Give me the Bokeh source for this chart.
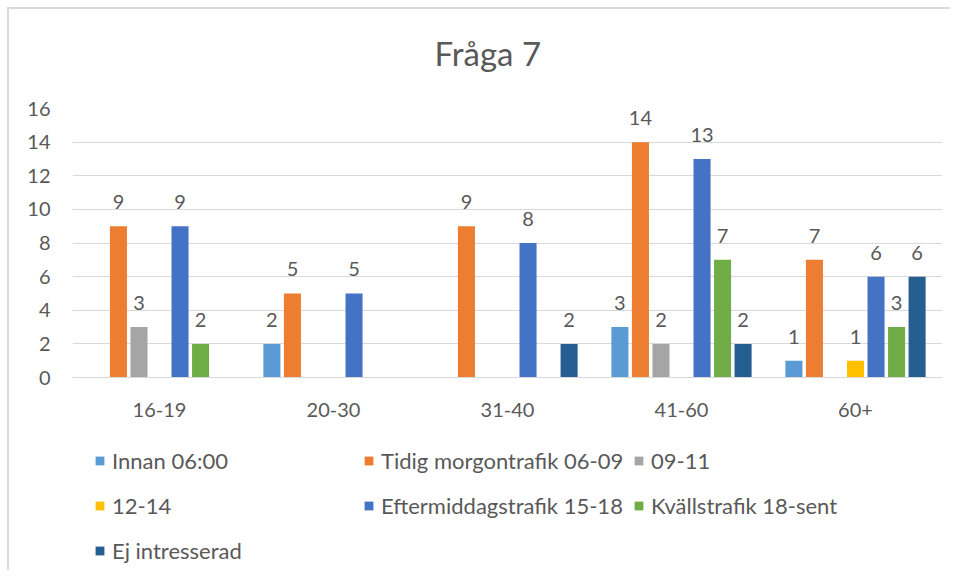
from bokeh.plotting import figure
from bokeh.layouts import column
from bokeh.models import ColumnDataSource, Legend, LegendItem, FixedTicker, Title
from bokeh.transform import dodge
from bokeh.core.properties import value
from bokeh.embed import file_html
from bokeh.resources import INLINE

# ---- data ----
categories = ["16-19", "20-30", "31-40", "41-60", "60+"]
series_names = ["Innan 06:00", "Tidig morgontrafik 06-09", "09-11", "12-14",
                "Eftermiddagstrafik 15-18", "Kvällstrafik 18-sent", "Ej intresserad"]
innan_0600 = [0, 2, 0, 3, 1]
tidig_0609 = [9, 5, 9, 14, 7]
mid_0911 = [3, 0, 0, 2, 0]
lunch_1214 = [0, 0, 0, 0, 1]
efter_1518 = [9, 5, 8, 13, 6]
kvall_18 = [2, 0, 0, 7, 3]
ej_intresserad = [0, 0, 2, 2, 6]
y_ticks = [0, 2, 4, 6, 8, 10, 12, 14, 16]

series_values = [innan_0600, tidig_0609, mid_0911, lunch_1214, efter_1518, kvall_18, ej_intresserad]
colors = ["#5B9BD5", "#ED7D31", "#A5A5A5", "#FFC000", "#4472C4", "#70AD47", "#255E91"]

FONT = "Lato"
TXT = "#595959"
GRID = "#D9D9D9"
W = 941
H_MAIN = 421
H_LEG = 140

p = figure(x_range=categories, y_range=(0, 16), width=W, height=H_MAIN,
           output_backend="svg", toolbar_location=None,
           min_border_left=63, min_border_right=8, min_border_top=98,
           min_border_bottom=53)

p.title.text = "Fråga 7"
p.title.align = "left"
p.title.offset = 362
p.title.text_font = FONT
p.title.text_font_size = "33px"
p.title.text_font_style = "normal"
p.title.text_color = TXT
p.title.standoff = 42

# small empty spacer between the title and the plot area
p.add_layout(Title(text=" ", text_font_size="1px", standoff=12), "above")

p.outline_line_color = None
p.background_fill_color = "white"
p.border_fill_color = "white"

p.xgrid.grid_line_color = None
p.ygrid.grid_line_color = GRID
p.ygrid.ticker = FixedTicker(ticks=y_ticks)

p.yaxis.ticker = FixedTicker(ticks=y_ticks)
p.yaxis.axis_line_color = None
p.yaxis.major_tick_line_color = None
p.yaxis.minor_tick_line_color = None
p.yaxis.major_label_standoff = 16
p.yaxis.major_label_text_font = FONT
p.yaxis.major_label_text_font_size = "20px"
p.yaxis.major_label_text_color = TXT

p.xaxis.axis_line_color = GRID
p.xaxis.major_tick_line_color = None
p.xaxis.major_label_standoff = 19
p.xaxis.major_label_text_font = FONT
p.xaxis.major_label_text_font_size = "20px"
p.xaxis.major_label_text_color = TXT

stride = 0.118
bar_w = 0.098
sources = []
for i, (name, vals, col) in enumerate(zip(series_names, series_values, colors)):
    src = ColumnDataSource(dict(cat=categories, val=vals,
                                lab=[str(v) if v != 0 else "" for v in vals]))
    sources.append(src)
    off = (i - 3) * stride
    p.vbar(x=dodge("cat", off, range=p.x_range), top="val", width=bar_w,
           source=src, fill_color=col, line_color=None)
    p.text(x=dodge("cat", off, range=p.x_range), y="val", text="lab", source=src,
           text_align="center", text_baseline="alphabetic", y_offset=-24,
           text_font=value(FONT), text_font_size="20px", text_color=TXT)

# ---- legend strip below the chart ----
# its y range lies above all values, so its bars stay out of view; they only feed the legend swatches
lg = figure(width=W, height=H_LEG, x_range=categories, y_range=(100, 101),
            output_backend="svg", toolbar_location=None, min_border=0)
lg.axis.visible = False
lg.grid.grid_line_color = None
lg.outline_line_color = None
lg.background_fill_color = "white"
lg.border_fill_color = "white"

swatches = []
for src, col in zip(sources, colors):
    swatches.append(lg.vbar(x="cat", top="val", width=0.1, source=src,
                            fill_color=col, line_color=None))

cols_x = [22, 291, 561]
rows_y = [96, 51, 6]
layout = [(0, 0, 0), (1, 1, 0), (2, 2, 0), (3, 0, 1), (4, 1, 1), (5, 2, 1), (6, 0, 2)]
for idx, c, r in layout:
    leg = Legend(items=[LegendItem(label=series_names[idx], renderers=[swatches[idx]])],
                 location=(cols_x[c], rows_y[r]), orientation="horizontal",
                 padding=0, margin=0, border_line_color=None, background_fill_alpha=0,
                 glyph_width=11, glyph_height=11, label_standoff=7, label_height=24,
                 label_text_font=FONT, label_text_font_size="22px", label_text_color=TXT)
    lg.add_layout(leg)

page = column(p, lg, styles={"border-top": "2px solid #DADADA",
                             "border-left": "2px solid #DADADA",
                             "margin-top": "7px", "margin-left": "7px"})
open("out.html", "w").write(file_html(page, INLINE))
